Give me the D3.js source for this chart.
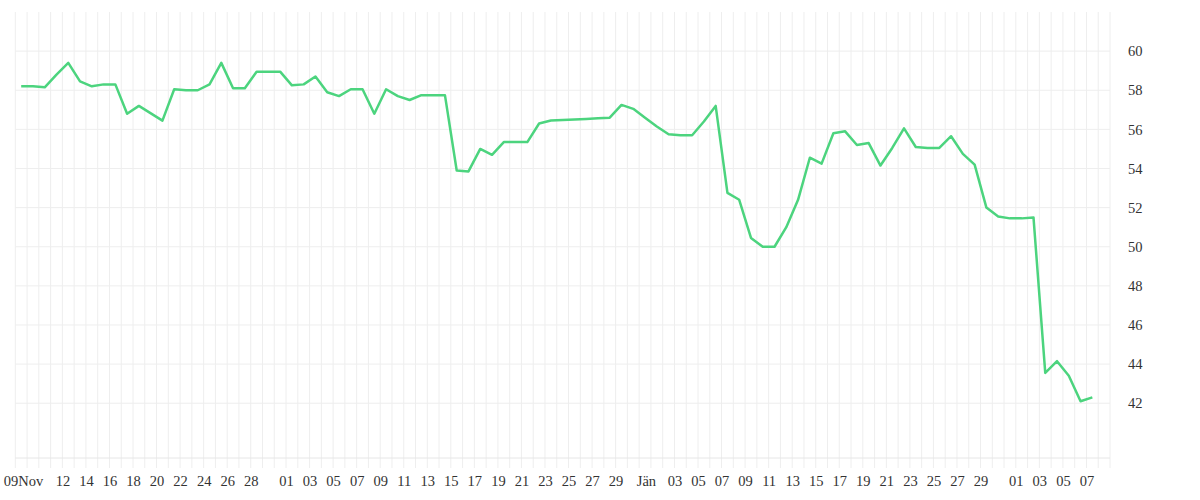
<!DOCTYPE html>
<html><head><meta charset="utf-8">
<script src="https://cdn.jsdelivr.net/npm/d3@7"></script>
<style>body{margin:0;background:#fff}text{font-family:"Liberation Serif",serif;fill:#333;font-size:14px}</style>
</head><body><svg id="c" width="1200" height="500"></svg>
<script>
const dates = ["2023-11-08","2023-11-09","2023-11-10","2023-11-11","2023-11-12","2023-11-13","2023-11-14","2023-11-15","2023-11-16","2023-11-17","2023-11-18","2023-11-20","2023-11-21","2023-11-22","2023-11-23","2023-11-24","2023-11-25","2023-11-26","2023-11-27","2023-11-28","2023-11-29","2023-11-30",
"2023-12-01","2023-12-02","2023-12-03","2023-12-04","2023-12-05","2023-12-06","2023-12-07","2023-12-08","2023-12-09","2023-12-10","2023-12-11","2023-12-12","2023-12-13","2023-12-14","2023-12-15","2023-12-16","2023-12-17","2023-12-18","2023-12-19","2023-12-20","2023-12-21","2023-12-22","2023-12-23","2023-12-24","2023-12-25","2023-12-26","2023-12-27","2023-12-28","2023-12-29","2023-12-30","2023-12-31",
"2024-01-01","2024-01-02","2024-01-03","2024-01-04","2024-01-05","2024-01-06","2024-01-07","2024-01-08","2024-01-09","2024-01-10","2024-01-11","2024-01-12","2024-01-13","2024-01-14","2024-01-15","2024-01-16","2024-01-17","2024-01-18","2024-01-19","2024-01-20","2024-01-21","2024-01-22","2024-01-23","2024-01-24","2024-01-25","2024-01-26","2024-01-27","2024-01-28","2024-01-29","2024-01-30","2024-01-31",
"2024-02-01","2024-02-02","2024-02-03","2024-02-04","2024-02-05","2024-02-06","2024-02-07"];
const values = [58.2,58.2,58.15,58.8,59.4,58.45,58.2,58.3,58.3,56.8,57.2,56.45,58.05,58.0,58.0,58.3,59.4,58.1,58.1,58.95,58.95,58.95,
58.25,58.3,58.7,57.9,57.7,58.05,58.05,56.8,58.05,57.7,57.5,57.75,57.75,57.75,53.9,53.85,55.0,54.7,55.35,55.35,55.35,56.3,56.45,56.48,56.5,56.53,56.57,56.6,57.25,57.05,
56.6,56.15,55.75,55.7,55.7,56.4,57.2,52.75,52.4,50.45,50.0,50.0,51.0,52.4,54.55,54.25,55.8,55.9,55.2,55.3,54.15,55.05,56.05,55.1,55.05,55.05,55.65,54.75,54.2,52.0,51.55,
51.45,51.45,51.5,43.55,44.15,43.4,42.1,42.3];
const tickDates = ["2023-11-09","2023-11-12","2023-11-14","2023-11-16","2023-11-18","2023-11-20","2023-11-22","2023-11-24","2023-11-26","2023-11-28",
"2023-12-01","2023-12-03","2023-12-05","2023-12-07","2023-12-09","2023-12-11","2023-12-13","2023-12-15","2023-12-17","2023-12-19","2023-12-21","2023-12-23","2023-12-25","2023-12-27","2023-12-29",
"2024-01-01","2024-01-03","2024-01-05","2024-01-07","2024-01-09","2024-01-11","2024-01-13","2024-01-15","2024-01-17","2024-01-19","2024-01-21","2024-01-23","2024-01-25","2024-01-27","2024-01-29",
"2024-02-01","2024-02-03","2024-02-05","2024-02-07"];
const tickLabels = ["09Nov","12","14","16","18","20","22","24","26","28","01","03","05","07","09","11","13","15","17","19","21","23","25","27","29","Jän","03","05","07","09","11","13","15","17","19","21","23","25","27","29","01","03","05","07"];
const yTicks = [42,44,46,48,50,52,54,56,58,60];

const P = s => { const [y,m,d] = s.split("-").map(Number); return new Date(y,m-1,d); };
const data = dates.map((d,i)=>({t:d3.timeHour.offset(P(d),12), v:values[i]}));
const svg = d3.select("#c");
const L=15.3,R=1110,T=12,B=458;
const x = d3.scaleTime().domain([P("2023-11-08"),P("2024-02-09")]).range([L,R]);
const y = d3.scaleLinear().domain([39.2,62]).range([B,T]);

const days = d3.timeDay.range(P("2023-11-08"), d3.timeDay.offset(P("2024-02-09"),1));
svg.append("g").selectAll("line").data(days).join("line")
  .attr("x1",d=>x(d)).attr("x2",d=>x(d)).attr("y1",T).attr("y2",B+10)
  .attr("stroke","#eeeeee").attr("stroke-width",1);
svg.append("g").selectAll("line").data(yTicks).join("line")
  .attr("x1",L).attr("x2",R).attr("y1",d=>y(d)).attr("y2",d=>y(d))
  .attr("stroke","#eeeeee");
svg.append("line").attr("x1",L).attr("x2",R).attr("y1",B).attr("y2",B).attr("stroke","#e6e6e6");

const xa = svg.append("g").attr("transform",`translate(0,${B+10})`)
  .call(d3.axisBottom(x).tickValues(tickDates.map(P)).tickSize(0).tickPadding(8)
    .tickFormat((d,i)=>tickLabels[i]));
xa.select(".domain").remove();
xa.selectAll("text").style("font-size","14.5px").attr("fill","#333")
  .attr("dx",(d,i)=>i===0?"-4":(tickLabels[i]==="Jän"?"-5":"0"));
const ya = svg.append("g").attr("transform",`translate(${R},0)`)
  .call(d3.axisRight(y).tickValues(yTicks).tickSize(0).tickPadding(18));
ya.select(".domain").remove();
ya.selectAll("text").style("font-size","14.5px").attr("fill","#333");

svg.append("path").datum(data)
  .attr("d",d3.line().x(d=>x(d.t)).y(d=>y(d.v)))
  .attr("fill","none").attr("stroke","#4cd47e").attr("stroke-width",2.5)
  .attr("stroke-linejoin","round");
</script></body></html>
